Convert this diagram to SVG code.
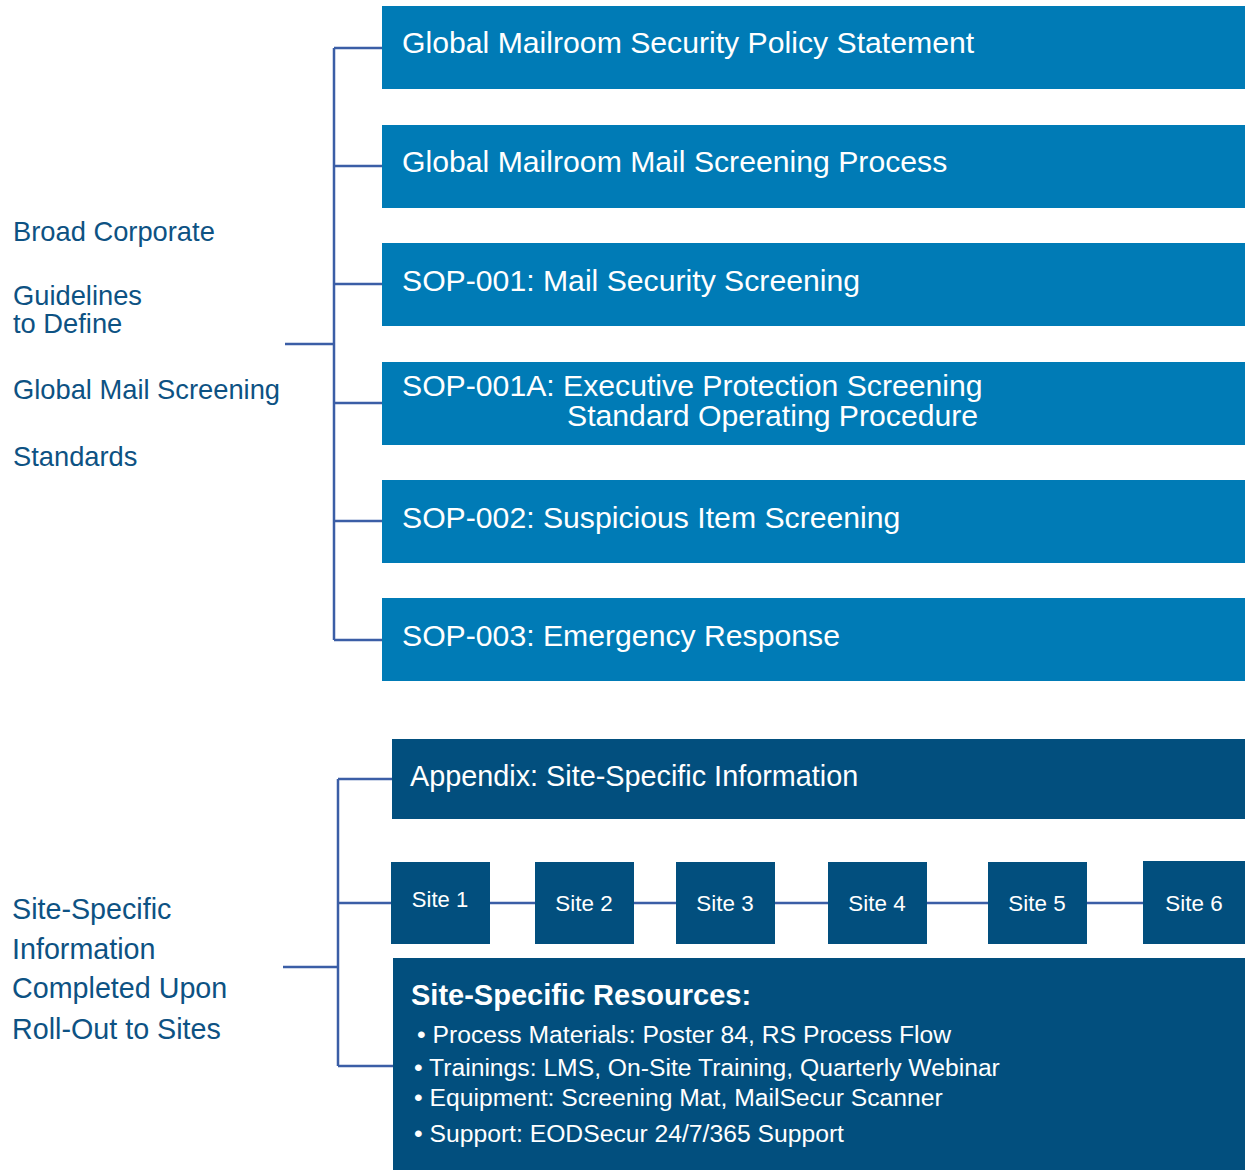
<svg xmlns="http://www.w3.org/2000/svg" width="1245" height="1170" viewBox="0 0 1245 1170">
<style>
.top{fill:#007bb6}
.dark{fill:#024f7e}
.wt{fill:#ffffff;font-family:"Liberation Sans",Arial,sans-serif}
.lbl{fill:#0d5283;font-family:"Liberation Sans",Arial,sans-serif}
.ln{stroke:#3b5ea6;stroke-width:2.5;fill:none}
</style>
<rect width="1245" height="1170" fill="#ffffff"/>
<g id="connectors">
<path class="ln" d="M334 48V640M334 48H382M334 166H382M334 284H382M334 403H382M334 521H382M334 640H382"/>
<path class="ln" d="M285 344H334" stroke-width="3"/>
<path class="ln" d="M338 779V1066M338 779H392M338 903H391M338 1066H393"/>
<path class="ln" d="M283 967H338" stroke-width="3"/>
<path class="ln" d="M490 903H535M634 903H676M775 903H828M927 903H988M1087 903H1143"/>
</g>
<g id="label-broad">
<text class="lbl" font-size="27.3"><tspan x="13" y="241">Broad Corporate</tspan><tspan x="13" y="305">Guidelines</tspan><tspan x="13" y="333">to Define</tspan><tspan x="13" y="399">Global Mail Screening</tspan><tspan x="13" y="466">Standards</tspan></text>
</g>
<g id="label-site">
<text class="lbl" font-size="28.7"><tspan x="12" y="919">Site-Specific</tspan><tspan x="12" y="959">Information</tspan><tspan x="12" y="998">Completed Upon</tspan><tspan x="12" y="1039">Roll-Out to Sites</tspan></text>
</g>
<g id="n1"><rect class="top" x="382" y="6" width="863" height="83"/><text class="wt" x="402" y="53" font-size="30.2">Global Mailroom Security Policy Statement</text></g>
<g id="n2"><rect class="top" x="382" y="125" width="863" height="83"/><text class="wt" x="402" y="172" font-size="30.2">Global Mailroom Mail Screening Process</text></g>
<g id="n3"><rect class="top" x="382" y="243" width="863" height="83"/><text class="wt" x="402" y="291" font-size="30.2">SOP-001: Mail Security Screening</text></g>
<g id="n4"><rect class="top" x="382" y="362" width="863" height="83"/><text class="wt" font-size="30.2"><tspan x="402" y="396">SOP-001A: Executive Protection Screening</tspan><tspan x="567" y="426">Standard Operating Procedure</tspan></text></g>
<g id="n5"><rect class="top" x="382" y="480" width="863" height="83"/><text class="wt" x="402" y="528" font-size="30.2">SOP-002: Suspicious Item Screening</text></g>
<g id="n6"><rect class="top" x="382" y="598" width="863" height="83"/><text class="wt" x="402" y="646" font-size="30.2">SOP-003: Emergency Response</text></g>
<g id="appendix"><rect class="dark" x="392" y="739" width="853" height="80"/><text class="wt" x="410" y="786" font-size="28.8">Appendix: Site-Specific Information</text></g>
<g id="site1"><rect class="dark" x="391" y="862" width="99" height="82"/><text class="wt" x="440" y="907" font-size="22" text-anchor="middle">Site 1</text></g>
<g id="site2"><rect class="dark" x="535" y="862" width="99" height="82"/><text class="wt" x="584" y="911" font-size="22.4" text-anchor="middle">Site 2</text></g>
<g id="site3"><rect class="dark" x="676" y="862" width="99" height="82"/><text class="wt" x="725" y="911" font-size="22.4" text-anchor="middle">Site 3</text></g>
<g id="site4"><rect class="dark" x="828" y="862" width="99" height="82"/><text class="wt" x="877" y="911" font-size="22.4" text-anchor="middle">Site 4</text></g>
<g id="site5"><rect class="dark" x="988" y="862" width="99" height="82"/><text class="wt" x="1037" y="911" font-size="22.4" text-anchor="middle">Site 5</text></g>
<g id="site6"><rect class="dark" x="1143" y="861" width="102" height="83"/><text class="wt" x="1194" y="911" font-size="22.4" text-anchor="middle">Site 6</text></g>
<g id="resources"><rect class="dark" x="393" y="958" width="852" height="212"/>
<text class="wt" x="411" y="1005" font-size="29" font-weight="bold">Site-Specific Resources:</text>
<text class="wt" font-size="24.7"><tspan x="417" y="1043">• Process Materials: Poster 84, RS Process Flow</tspan><tspan x="414" y="1076">• Trainings: LMS, On-Site Training, Quarterly Webinar</tspan><tspan x="414" y="1106">• Equipment: Screening Mat, MailSecur Scanner</tspan><tspan x="414" y="1142">• Support: EODSecur 24/7/365 Support</tspan></text>
</g>
</svg>
